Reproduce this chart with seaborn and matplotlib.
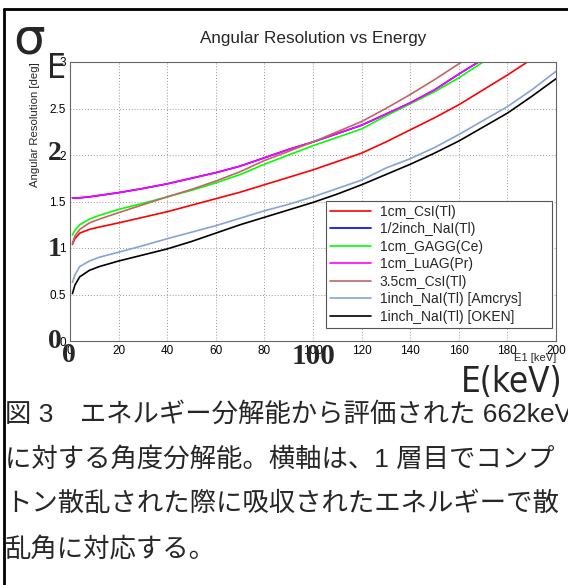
import numpy as np
import pandas as pd
import matplotlib
matplotlib.use("Agg")
import matplotlib.pyplot as plt
import seaborn as sns
from matplotlib.lines import Line2D
from matplotlib.ticker import MultipleLocator

# energy deposited in the first layer (keV)
e1 = [1, 2, 4, 8, 12, 20, 30, 40, 50, 60, 70, 80, 90, 100, 110, 120, 130, 140, 150, 160, 170, 180, 190, 200]

# angular resolution (deg) per detector
csi_1cm = [1.04, 1.10, 1.16, 1.20, 1.225, 1.27, 1.33, 1.39, 1.46, 1.53, 1.60, 1.68, 1.76, 1.84, 1.93, 2.02, 2.14, 2.27, 2.40, 2.54, 2.70, 2.86, 3.03, 3.20]
nai_half = [1.54, 1.535, 1.54, 1.55, 1.565, 1.595, 1.64, 1.69, 1.75, 1.81, 1.88, 1.97, 2.06, 2.14, 2.23, 2.32, 2.44, 2.56, 2.70, 2.87, 3.03, 3.20, 3.38, 3.56]
gagg_1cm = [1.14, 1.19, 1.25, 1.31, 1.35, 1.415, 1.48, 1.55, 1.62, 1.70, 1.79, 1.90, 2.00, 2.10, 2.19, 2.28, 2.42, 2.55, 2.68, 2.83, 3.00, 3.18, 3.35, 3.55]
luag_1cm = [1.54, 1.535, 1.54, 1.55, 1.565, 1.595, 1.64, 1.69, 1.75, 1.81, 1.88, 1.97, 2.06, 2.14, 2.23, 2.32, 2.44, 2.56, 2.70, 2.87, 3.03, 3.20, 3.38, 3.56]
csi_35cm = [1.05, 1.13, 1.20, 1.27, 1.31, 1.38, 1.465, 1.55, 1.63, 1.72, 1.82, 1.94, 2.04, 2.14, 2.25, 2.36, 2.50, 2.65, 2.81, 2.98, 3.15, 3.33, 3.50, 3.70]
nai_amcrys = [0.63, 0.71, 0.80, 0.86, 0.90, 0.955, 1.025, 1.10, 1.17, 1.24, 1.32, 1.40, 1.47, 1.55, 1.64, 1.73, 1.86, 1.96, 2.08, 2.22, 2.37, 2.52, 2.70, 2.90]
nai_oken = [0.51, 0.60, 0.69, 0.76, 0.80, 0.86, 0.925, 0.99, 1.07, 1.16, 1.25, 1.33, 1.41, 1.49, 1.58, 1.68, 1.79, 1.90, 2.02, 2.15, 2.30, 2.45, 2.63, 2.82]

labels = ["1cm_CsI(Tl)", "1/2inch_NaI(Tl)", "1cm_GAGG(Ce)", "1cm_LuAG(Pr)",
          "3.5cm_CsI(Tl)", "1inch_NaI(Tl) [Amcrys]", "1inch_NaI(Tl) [OKEN]"]
colors = ["#ff0000", "#0000ff", "#00ff00", "#ff00ff", "#c46464", "#86a3d8", "#000000"]
series = [csi_1cm, nai_half, gagg_1cm, luag_1cm, csi_35cm, nai_amcrys, nai_oken]

caption = ["図 3　エネルギー分解能から評価された 662keV",
           "に対する角度分解能。横軸は、1 層目でコンプ",
           "トン散乱された際に吸収されたエネルギーで散",
           "乱角に対応する。"]

rows = []
for lab, vals in zip(labels, series):
    for x, y in zip(e1, vals):
        rows.append({"E1": x, "res": y, "detector": lab})
df = pd.DataFrame(rows)

sns.set_style("white")
plt.rcParams["font.family"] = ["Liberation Sans", "DejaVu Sans"]

W, H = 568, 585
fig = plt.figure(figsize=(W / 100, H / 100), dpi=100)
ax = fig.add_axes([70 / W, 1 - 341 / H, 486 / W, 279 / H])

sns.lineplot(data=df, x="E1", y="res", hue="detector", hue_order=labels,
             palette=dict(zip(labels, colors)), linewidth=1.2, ax=ax)

ax.set_xlim(0, 200)
ax.set_ylim(0, 3)
ax.xaxis.set_major_locator(MultipleLocator(20))
ax.xaxis.set_minor_locator(MultipleLocator(4))
ax.yaxis.set_major_locator(MultipleLocator(0.5))
ax.yaxis.set_minor_locator(MultipleLocator(0.1))
ax.yaxis.set_major_formatter(plt.FuncFormatter(lambda v, p: f"{v:g}"))
ax.tick_params(axis="both", which="both", direction="in", labelsize=8.5,
               colors="#333333", labelcolor="black", pad=3)
ax.tick_params(axis="y", which="major", length=11, width=0.8)
ax.tick_params(axis="y", which="minor", length=6, width=0.8)
ax.tick_params(axis="x", which="major", length=8, width=0.8)
ax.tick_params(axis="x", which="minor", length=5, width=0.8)
ax.grid(True, which="major", color="#999999", linestyle=(0, (1, 2)), linewidth=0.7)
for s in ax.spines.values():
    s.set_color("#666666")
    s.set_linewidth(0.8)

ax.set_xlabel("")
ax.set_ylabel("")
fig.text(556 / W, 1 - 358 / H, "E1 [keV]", ha="right", va="center", fontsize=8)
fig.text(35 / W, 1 - 62 / H, "Angular Resolution [deg]", rotation=90,
         ha="center", va="top", fontsize=8.2)
fig.text(313 / W, 1 - 39 / H, "Angular Resolution vs Energy", ha="center",
         va="center", fontsize=12.3)

handles = [Line2D([], [], color=c, lw=1.2) for c in colors]
leg = ax.legend(handles, labels, loc="lower left",
                bbox_to_anchor=(0.527, 0.047, 0.465, 0.451), mode="expand",
                fontsize=10, frameon=True, fancybox=False, framealpha=1,
                edgecolor="#555555", borderpad=0.3, labelspacing=0.25,
                handlelength=2.9, handletextpad=0.65, borderaxespad=0)
leg.get_frame().set_linewidth(0.8)

# overlay labels from the scanned document
fig.text(13 / W, 1 - 40 / H, "σ", fontsize=36, ha="left", va="center",
         family=["DejaVu Sans"])
narrow = dict(family=["DejaVu Sans"], stretch="condensed")
fig.text(47 / W, 1 - 68 / H, "E", fontsize=24, ha="left", va="center", **narrow)
bold_serif = dict(family=["Liberation Serif", "DejaVu Serif"], weight="bold",
                  fontsize=20, va="center", ha="left")
fig.text(48 / W, 1 - 154 / H, "2", **bold_serif)
fig.text(48 / W, 1 - 249 / H, "1", **bold_serif)
fig.text(48 / W, 1 - 341 / H, "0", **bold_serif)
fig.text(62 / W, 1 - 356 / H, "0", **bold_serif)
fig.text(314 / W, 1 - 356 / H, "100", **{**bold_serif, "ha": "center", "fontsize": 21})
fig.text(563 / W, 1 - 382 / H, "E(keV)", fontsize=25, ha="right", va="center",
         **narrow)

# caption lines (latin glyphs in Liberation Sans, kana/kanji from Noto CJK)
for i, line in enumerate(caption):
    fig.text(5 / W, 1 - (414 + 45 * i) / H, line, fontsize=19, ha="left",
             va="center", family=["Liberation Sans", "Noto Sans CJK JP", "DejaVu Sans"])

# page border (left and top)
fig.add_artist(Line2D([4 / W, 4 / W], [0, 1 - 9 / H], color="black", lw=2,
                      transform=fig.transFigure))
fig.add_artist(Line2D([4 / W, 1], [1 - 9 / H, 1 - 9 / H], color="black", lw=2,
                      transform=fig.transFigure))

fig.savefig("out.png", dpi=100)
